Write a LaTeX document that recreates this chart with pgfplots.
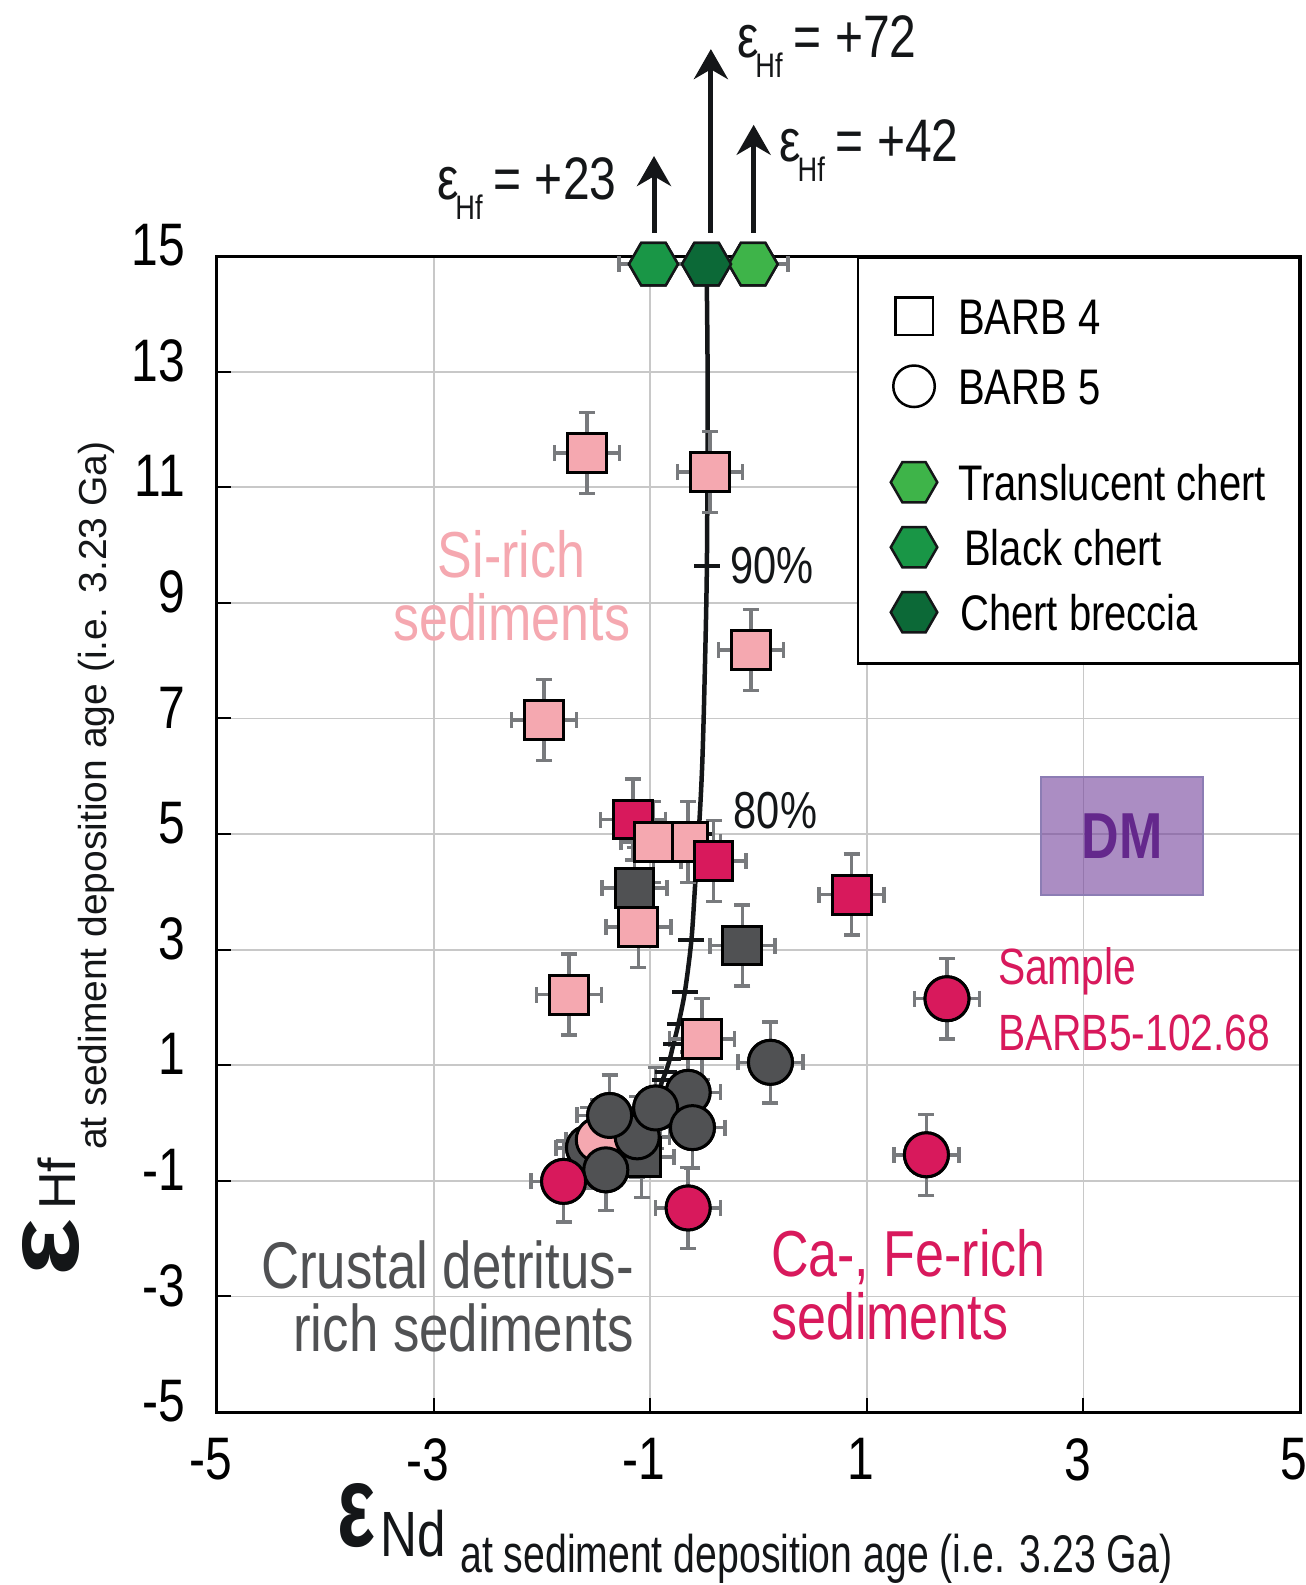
\documentclass[border=0pt]{standalone}
\usepackage{fontspec}
\setmainfont{Liberation Sans}
\newfontfamily\cond{Liberation Sans}[FakeStretch=0.8]
\newfontfamily\condB{Liberation Sans}[FakeStretch=0.74]
\usepackage{graphicx}
\usepackage{pgfplots}
\pgfplotsset{compat=1.18}
\usepackage{pgfplotstable}
\usetikzlibrary{arrows.meta}

\definecolor{sipink}{RGB}{245,168,176}
\definecolor{camag}{RGB}{216,25,92}
\definecolor{crgray}{RGB}{80,81,83}
\definecolor{trgreen}{RGB}{62,180,73}
\definecolor{bkgreen}{RGB}{25,150,70}
\definecolor{brgreen}{RGB}{12,105,55}
\definecolor{errgray}{RGB}{120,122,125}
\definecolor{gridgray}{RGB}{200,200,200}
\definecolor{dmfill}{RGB}{115,65,155}
\definecolor{dmtext}{RGB}{100,40,140}
\definecolor{dmedge}{RGB}{140,125,180}
\definecolor{ink}{RGB}{20,22,24}

\pgfdeclareplotmark{hexagon*}{%
  \pgfpathmoveto{\pgfqpoint{\pgfplotmarksize}{0pt}}%
  \pgfpathlineto{\pgfqpoint{0.5\pgfplotmarksize}{0.8660254\pgfplotmarksize}}%
  \pgfpathlineto{\pgfqpoint{-0.5\pgfplotmarksize}{0.8660254\pgfplotmarksize}}%
  \pgfpathlineto{\pgfqpoint{-\pgfplotmarksize}{0pt}}%
  \pgfpathlineto{\pgfqpoint{-0.5\pgfplotmarksize}{-0.8660254\pgfplotmarksize}}%
  \pgfpathlineto{\pgfqpoint{0.5\pgfplotmarksize}{-0.8660254\pgfplotmarksize}}%
  \pgfpathclose
  \pgfusepathqfillstroke}

\newcommand{\ehf}[1]{{\cond\fontsize{60}{60}\selectfont ε}\kern-3pt\raisebox{-20pt}{\cond\fontsize{34}{34}\selectfont Hf}\kern11pt{\cond\fontsize{60}{60}\selectfont = +#1}}

% BARB 4 (squares)
\pgfplotstableread{
x y
-1.16 5.25
}\magsqA
\pgfplotstableread{
x y
-1.585 11.59
-0.446 11.26
-0.07 8.18
-1.98 6.97
-0.65 4.86
-0.97 4.86
-1.11 3.39
-1.75 2.22
-0.52 1.45
}\pinksq
\pgfplotstableread{
x y
-0.415 4.53
0.86 3.95
}\magsqB
\pgfplotstableread{
x y
-1.145 4.07
-0.15 3.07
-1.08 -0.59
}\darksq
% BARB 5 (circles)
\pgfplotstableread{
x y
-1.57 -0.43
}\darkciA
\pgfplotstableread{
x y
-1.48 -0.29
}\pinkci
\pgfplotstableread{
x y
-1.12 -0.24
-1.375 0.13
-0.65 0.53
-0.95 0.26
-0.61 -0.08
0.11 1.05
-1.41 -0.81
}\darkciB
\pgfplotstableread{
x y
-1.80 -1.01
-0.65 -1.47
1.74 2.15
1.55 -0.55
}\magci
% mixing curve
\pgfplotstableread{
x y
-0.48 14.86
-0.47 12.8
-0.477 9.63
-0.50 7.5
-0.52 6.2
-0.545 5.25
-0.585 4.13
-0.62 3.16
-0.68 2.27
-0.74 1.71
-0.785 1.37
-0.82 1.1
-0.855 0.89
-0.885 0.75
-0.92 0.55
-0.96 0.3
}\mixcurve
\pgfplotstableread{
x y
-0.477 9.63
-0.554 5.0
-0.62 3.16
-0.68 2.27
}\mixticksA
\pgfplotstableread{
x y
-0.74 1.71
-0.785 1.37
-0.82 1.1
-0.855 0.89
-0.885 0.75
}\mixticksB

\pgfplotsset{
  errs/.style={error bars/.cd, x dir=both, x fixed=0.3, y dir=both, y fixed=0.7,
    error bar style={draw=errgray, line width=3.5pt},
    error mark options={rotate=90, draw=errgray, line width=3.5pt, mark size=8pt}},
  herrs/.style={error bars/.cd, x dir=both, x fixed=0.32,
    error bar style={draw=errgray, line width=3.5pt},
    error mark options={rotate=90, draw=errgray, line width=3.5pt, mark size=8pt}},
  sq/.style={only marks, forget plot, mark=square*, mark size=19.4pt,
    draw=black, fill=#1, line width=3pt},
  ci/.style={only marks, forget plot, mark=*, mark size=22pt,
    draw=black, fill=#1, line width=3pt},
  hx/.style={only marks, forget plot, mark=hexagon*, mark size=24.5pt,
    draw=ink, fill=#1, line width=2.5pt},
}

\begin{document}
\begin{tikzpicture}
\begin{axis}[
  at={(0pt,0pt)}, anchor=south west,
  scale only axis, width=1083pt, height=1156pt,
  xmin=-5, xmax=5, ymin=-5, ymax=15,
  xtick={-5,-3,-1,1,3,5}, ytick={-5,-3,-1,1,3,5,7,9,11,13,15},
  xticklabels={-5,-3,-1,1,3,5},
  yticklabels={-5,-3,-1,1,3,5,7,9,11,13,15},
  tick pos=left, tick align=inside, major tick length=14pt,
  tick style={black, line width=2pt},
  grid=major, grid style={gridgray, line width=1.8pt},
  axis line style={black, line width=3pt},
  clip=false,
  xticklabel style={font=\cond\fontsize{60}{60}\selectfont, inner sep=0pt, yshift=-26pt, xshift=-6pt},
  yticklabel style={font=\cond\fontsize{60}{60}\selectfont, inner sep=0pt, xshift=-32pt, yshift=11pt},
  legend cell align=left,
  legend style={at={(1,1)}, anchor=north east, draw=black, line width=2.5pt, fill=white,
     inner xsep=33pt, inner ysep=18.5pt, column sep=21pt, row sep=0pt,
     nodes={font=\cond\fontsize{50}{50}\selectfont, inner xsep=0pt, inner ysep=14.5pt,
            text height=36pt, text depth=0pt}},
]

% DM box
\draw[dmedge, line width=2pt, fill=dmfill, fill opacity=0.6] (axis cs:2.61,3.95) rectangle (axis cs:4.10,5.98);
\node[text=dmtext, font=\cond\bfseries\fontsize{65}{65}\selectfont, inner sep=0pt] at (axis cs:3.355,4.965) {DM};

% mixing curve
\addplot[ink, line width=4.5pt, smooth, mark=none, forget plot] table {\mixcurve};
\addplot[only marks, forget plot, mark=-, mark size=13pt, mark options={ink, line width=4pt}] table {\mixticksA};
\addplot[only marks, forget plot, mark=-, mark size=11pt, mark options={ink, line width=4pt}] table {\mixticksB};

% first pass: markers with error bars
\addplot[hx=bkgreen, herrs] coordinates {(-0.97,14.86)};
\addplot[hx=trgreen, herrs] coordinates {(-0.05,14.86)};
\addplot[hx=brgreen, herrs] coordinates {(-0.48,14.86)};
\addplot[sq=camag, errs] table {\magsqA};
\addplot[sq=sipink, errs] table {\pinksq};
\addplot[sq=camag, errs] table {\magsqB};
\addplot[sq=crgray, errs] table {\darksq};
\addplot[ci=crgray, errs] table {\darkciA};
\addplot[ci=sipink, errs] table {\pinkci};
\addplot[ci=crgray, errs] table {\darkciB};
\addplot[ci=camag, errs] table {\magci};

% second pass: markers on top of all error bars
\addplot[hx=bkgreen] coordinates {(-0.97,14.86)};
\addplot[hx=trgreen] coordinates {(-0.05,14.86)};
\addplot[hx=brgreen] coordinates {(-0.48,14.86)};
\addplot[sq=camag] table {\magsqA};
\addplot[sq=sipink] table {\pinksq};
\addplot[sq=camag] table {\magsqB};
\addplot[sq=crgray] table {\darksq};
\addplot[ci=crgray] table {\darkciA};
\addplot[ci=sipink] table {\pinkci};
\addplot[ci=crgray] table {\darkciB};
\addplot[ci=camag] table {\magci};

% legend
\addlegendimage{legend image code/.code={\path[draw=none,fill=none] (0pt,40.5pt) -- (0pt,-30pt);
  \draw[black, line width=2.5pt, fill=white, mark size=18.75pt] plot[mark=square*] coordinates {(0pt,0pt)};}}
\addlegendentry{BARB 4}
\addlegendimage{legend image code/.code={\path[draw=none,fill=none] (0pt,37.5pt) -- (0pt,-30pt);
  \draw[black, line width=2.5pt, fill=white, mark size=20.75pt] plot[mark=*] coordinates {(0pt,0pt)};}}
\addlegendentry{BARB 5}
\addlegendimage{legend image code/.code={\path[draw=none,fill=none] (0pt,63.5pt) -- (0pt,-30pt);
  \draw[ink, line width=2.5pt, fill=trgreen, mark size=23.25pt] plot[mark=hexagon*] coordinates {(0pt,0pt)};}}
\addlegendentry{Translucent chert}
\addlegendimage{legend image code/.code={\path[draw=none,fill=none] (0pt,30pt) -- (0pt,-30pt);
  \draw[ink, line width=2.5pt, fill=bkgreen, mark size=23.25pt] plot[mark=hexagon*] coordinates {(0pt,0pt)};}}
\addlegendentry{\kern6pt Black chert}
\addlegendimage{legend image code/.code={\path[draw=none,fill=none] (0pt,30pt) -- (0pt,-30pt);
  \draw[ink, line width=2.5pt, fill=brgreen, mark size=23.25pt] plot[mark=hexagon*] coordinates {(0pt,0pt)};}}
\addlegendentry{\kern2pt Chert breccia}

% arrows above cherts
\draw[ink, line width=5pt, -{Stealth[length=30pt, width=34pt]}] (axis cs:-0.965,15.40) -- (axis cs:-0.965,16.73);
\draw[ink, line width=5pt, -{Stealth[length=30pt, width=34pt]}] (axis cs:-0.44,15.40) -- (axis cs:-0.44,18.58);
\draw[ink, line width=5pt, -{Stealth[length=30pt, width=34pt]}] (axis cs:-0.045,15.40) -- (axis cs:-0.045,17.27);
\node[anchor=base west, inner sep=0pt, text=ink] at (axis cs:-2.97,15.97) {\ehf{23}};
\node[anchor=base west, inner sep=0pt, text=ink] at (axis cs:-0.20,18.43) {\ehf{72}};
\node[anchor=base west, inner sep=0pt, text=ink] at (axis cs:0.19,16.63) {\ehf{42}};

% percentages
\node[anchor=base west, inner sep=0pt, text=ink, font=\cond\fontsize{52}{52}\selectfont] at (axis cs:-0.26,9.34) {90\%};
\node[anchor=base west, inner sep=0pt, text=ink, font=\cond\fontsize{52}{52}\selectfont] at (axis cs:-0.23,5.10) {80\%};

% group labels
\node[anchor=base, inner sep=0pt, text=sipink, font=\cond\fontsize{65}{65}\selectfont] at (axis cs:-2.28,9.43) {Si-rich};
\node[anchor=base, inner sep=0pt, text=sipink, font=\cond\fontsize{65}{65}\selectfont] at (axis cs:-2.28,8.34) {sediments};
\node[anchor=base east, inner sep=0pt, text=crgray, font=\cond\fontsize{66}{66}\selectfont] at (axis cs:-1.15,-2.87) {Crustal detritus-};
\node[anchor=base east, inner sep=0pt, text=crgray, font=\cond\fontsize{66}{66}\selectfont] at (axis cs:-1.15,-3.96) {rich sediments};
\node[anchor=base west, inner sep=0pt, text=camag, font=\cond\fontsize{65}{65}\selectfont] at (axis cs:0.115,-2.65) {Ca-, Fe-rich};
\node[anchor=base west, inner sep=0pt, text=camag, font=\cond\fontsize{65}{65}\selectfont] at (axis cs:0.115,-3.74) {sediments};
\node[anchor=base west, inner sep=0pt, text=camag, font=\cond\fontsize{51}{51}\selectfont] at (axis cs:2.21,2.39) {Sample};
\node[anchor=base west, inner sep=0pt, text=camag, font=\cond\fontsize{51}{51}\selectfont] at (axis cs:2.21,1.26) {BARB5-102.68};
\end{axis}

% x axis label
\node[anchor=base west, inner sep=0pt, text=ink] at (120pt,-134pt) {\resizebox{38pt}{63pt}{\bfseries ε}};
\node[anchor=base west, inner sep=0pt, text=ink] at (163pt,-144pt) {\cond\fontsize{64}{64}\selectfont Nd};
\node[anchor=base west, inner sep=0pt, text=ink] at (243pt,-160pt) {\condB\fontsize{53}{53}\selectfont at sediment deposition age (i.e. 3.23 Ga)};

% y axis label
\node[rotate=90, anchor=base west, inner sep=0pt, text=ink] at (-139pt,135pt) {\resizebox{58pt}{56pt}{\bfseries ε}};
\node[rotate=90, anchor=base west, inner sep=0pt, text=ink] at (-141pt,202pt) {\fontsize{52}{52}\selectfont Hf};
\node[rotate=90, anchor=base west, inner sep=0pt, text=ink] at (-110pt,262pt) {\fontsize{39}{39}\selectfont at sediment deposition age (i.e. 3.23 Ga)};

\pgfresetboundingbox
\path[use as bounding box] (-217pt,-173pt) rectangle (1089pt,1412pt);
\end{tikzpicture}
\end{document}
